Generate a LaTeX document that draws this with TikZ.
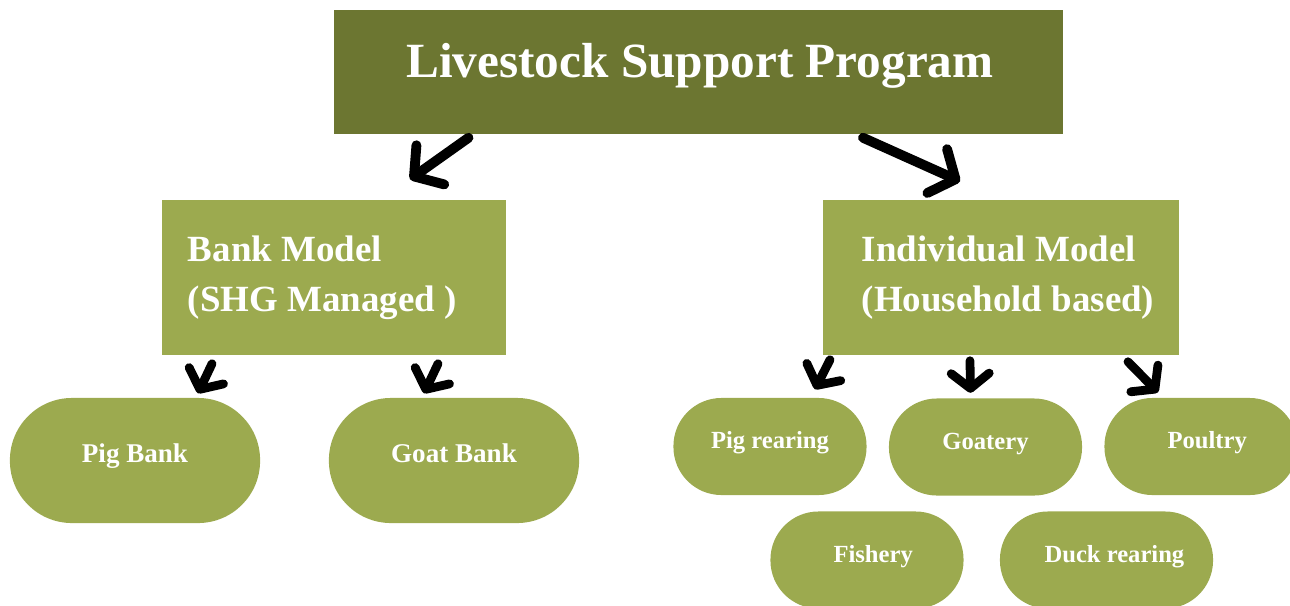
\documentclass[tikz,border=0pt]{standalone}
\usepackage{fontspec}
\setmainfont{Liberation Serif}
\usepackage{xcolor}
\usetikzlibrary{calc,arrows.meta}
\definecolor{darkolive}{HTML}{6C7631}
\definecolor{lightolive}{HTML}{9CAA4F}

\begin{document}
\begin{tikzpicture}[x=0.01cm,y=-0.01cm,
head/.style={rectangle,fill=darkolive,minimum width=7.29cm,minimum height=1.24cm},
model/.style={rectangle,fill=lightolive,minimum height=1.55cm},
modlab/.style={font=\fontsize{10.5}{14.2}\selectfont\bfseries,text=white,align=left,inner sep=0pt},
bigleaf/.style={rectangle,rounded corners=0.62cm,fill=lightolive,minimum width=2.5cm,minimum height=1.25cm,text=white,text height=5pt,text depth=3.8pt,font=\fontsize{7.7}{9}\selectfont\bfseries},
leaf/.style={rectangle,rounded corners=0.48cm,fill=lightolive,minimum width=1.93cm,minimum height=0.97cm,text=white,text height=5pt,text depth=3.8pt,font=\fontsize{7}{8}\selectfont\bfseries},
bigarr/.style={-{Straight Barb[length=2mm,width=4.8mm,round]},line width=2.8pt,line cap=round},
arr/.style={-{Straight Barb[length=1.5mm,width=3.8mm,round]},line width=2.5pt,line cap=round}]
	\clip (0,0) rectangle (1290,605);
	%program
	\node[head] at (698.5,72) (prog) {};
	\node[font=\fontsize{14}{16}\selectfont\bfseries,text=white] at (700,66) {Livestock Support Program};
	%models
	\node[model,minimum width=3.44cm] at (334,277.5) (bank) {};
	\node[modlab,right] at ([xshift=0.26cm]bank.west) {Bank Model\\(SHG Managed )};
	\node[model,minimum width=3.56cm] at (1001,277.5) (indiv) {};
	\node[modlab,right] at ([xshift=0.39cm]indiv.west) {Individual Model\\(Household based)};
	%bank leaves
	\node[bigleaf] at (135,460.5) (pigbank) {Pig Bank};
	\node[bigleaf] at (454,460.5) (goatbank) {Goat Bank};
	%household leaves
	\node[leaf] at (770,446.5) (pigrear) {Pig rearing};
	\node[leaf] at (985.5,447) (goatery) {Goatery};
	\node[leaf] at (1201,446.5) (poultry) {\hspace*{3.5pt}Poultry};
	\node[leaf] at (867,560) (fishery) {\hspace*{3.5pt}Fishery};
	\node[leaf,minimum width=2.13cm] at (1106.5,560) (duck) {\hspace*{4.5pt}Duck rearing};

	\draw[bigarr] ($(prog.south)+(-230,3)$) -- ($(bank.north)+(76,-20)$);
	\draw[bigarr] ($(prog.south)+(164.5,3)$) -- ($(indiv.north)+(-41,-18)$);
	\draw[arr] ($(bank.south)+(-122,8)$) -- ($(pigbank.north)+(63,-4)$);
	\draw[arr] ($(bank.south)+(104,8)$) -- ($(goatbank.north)+(-30,-4)$);
	\draw[arr] ($(indiv.south)+(-171,4)$) -- ($(pigrear.north)+(45,-8)$);
	\draw[arr] ($(indiv.south)+(-31,5)$) -- ($(goatery.north)+(-15,-5)$);
	\draw[arr] ($(indiv.south)+(127,6)$) -- ($(poultry.north)+(-43,-5)$);
\end{tikzpicture}
\end{document}
